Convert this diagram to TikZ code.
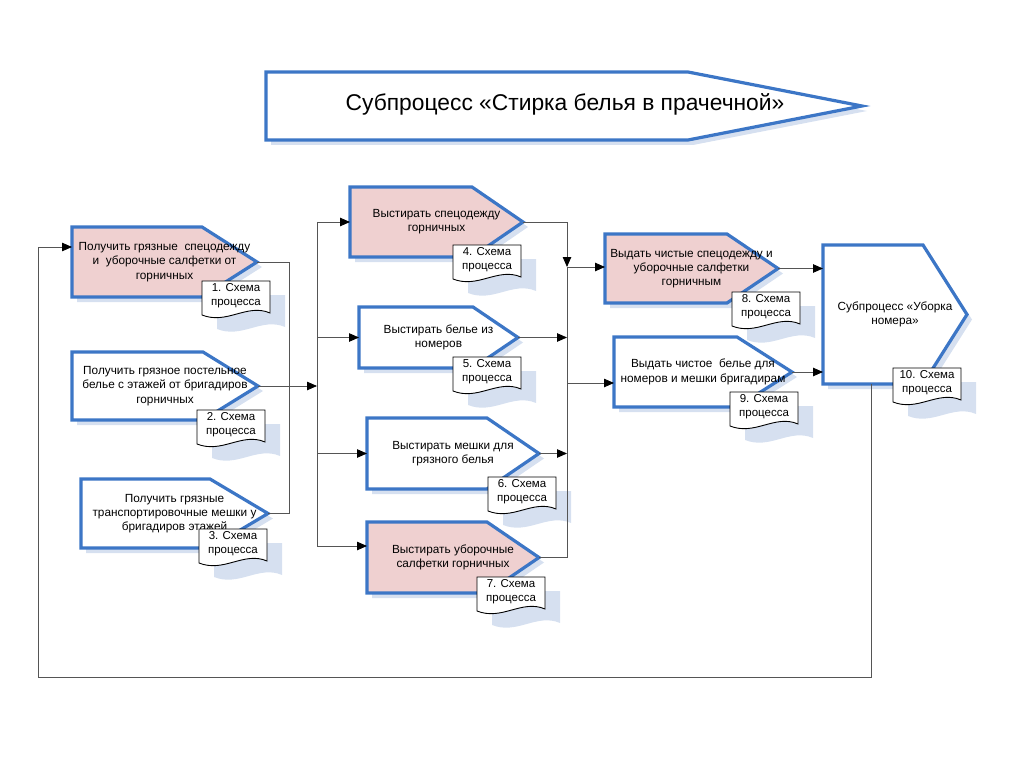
\documentclass[tikz,border=0pt]{standalone}
\usepackage{fontspec}
\setmainfont{Liberation Sans}
\usetikzlibrary{arrows.meta}
\definecolor{bblue}{RGB}{60,118,198}
\definecolor{bpink}{RGB}{239,208,208}
\definecolor{shadowc}{RGB}{214,224,240}
\definecolor{connc}{RGB}{85,85,85}
\tikzset{
  pbox/.style={draw=bblue,line width=3.2pt,line join=miter},
  bshadow/.style={fill=shadowc},
  btext/.style={align=center,inner sep=0pt,font=\fontsize{11.8}{14.3}\selectfont},
  dtext/.style={align=center,inner sep=0pt,font=\fontsize{11.5}{13.8}\selectfont},
  docline/.style={draw=black,line width=0.9pt,fill=white},
  conn/.style={draw=connc,line width=0.8pt},
  arr/.style={conn,-{Triangle[length=10pt,width=8.5pt,color=black]}},
}
% #1 name, #2 fill, #3 x1, #4 y1, #5 notch x, #6 tip x, #7 y2, #8 text
\newcommand\procbox[8]{%
  \fill[bshadow] (#3+5,#4+5) -- (#5+5,#4+5) -- ({#6+5},{(#4+#7)/2+5}) -- (#5+5,#7+5) -- (#3+5,#7+5) -- cycle;
  \draw[pbox,fill=#2] (#3,#4) -- (#5,#4) -- ({#6},{(#4+#7)/2}) -- (#5,#7) -- (#3,#7) -- cycle;
  \node[btext] (#1) at ({(#3+#6)/2},{(#4+#7)/2}) {#8};
  \coordinate (#1-tip) at ({#6},{(#4+#7)/2});
  \coordinate (#1-w) at (#3,{(#4+#7)/2});
}
% #1 name, #2 x, #3 y, #4 text
\newcommand\docbox[4]{%
  \fill[bshadow] (#2+15,#3+14) -- (#2+83,#3+14) -- (#2+83,#3+46) .. controls (#2+60,#3+36) and (#2+40,#3+58) .. (#2+15,#3+48) -- cycle;
  \draw[docline] (#2,#3) -- (#2+68,#3) -- (#2+68,#3+32) .. controls (#2+45,#3+22) and (#2+25,#3+44) .. (#2,#3+34) -- cycle;
  \node[dtext] (#1) at (#2+34,#3+15) {#4};
}
\begin{document}
\begin{tikzpicture}[x=1pt,y=-1pt]
\useasboundingbox (0,0) rectangle (1024,767);
% title
\fill[bshadow] (271,77) -- (693,77) -- (867,111) -- (693,145) -- (271,145) -- cycle;
\draw[pbox,fill=white] (266,72) -- (688,72) -- (862,106) -- (688,140) -- (266,140) -- cycle;
\node[font=\fontsize{22.8}{26}\selectfont,inner sep=0pt] (title) at (565,104) {Субпроцесс «Стирка белья в прачечной»};

% left column
\procbox{b1}{bpink}{72}{227}{202}{257}{297}{Получить грязные\ \ спецодежду\\ и\ \ уборочные салфетки от\\горничных}
\docbox{d1}{202}{281}{1. Схема\\процесса}
\procbox{b2}{white}{72}{352}{203}{258}{420}{Получить грязное постельное\\белье с этажей от бригадиров\\горничных}
\docbox{d2}{197}{410}{2. Схема\\процесса}
\procbox{b3}{white}{81}{479}{210}{268}{548}{Получить грязные\\транспортировочные мешки у\\бригадиров этажей}
\docbox{d3}{199}{529}{3. Схема\\процесса}

% middle column
\procbox{b4}{bpink}{350}{187}{472}{523}{257}{Выстирать спецодежду\\горничных}
\docbox{d4}{453}{245}{4. Схема\\процесса}
\procbox{b5}{white}{359}{307}{473}{518}{368}{Выстирать белье из\\номеров}
\docbox{d5}{453}{357}{5. Схема\\процесса}
\procbox{b6}{white}{367}{418}{487}{539}{489}{Выстирать мешки для\\грязного белья}
\docbox{d6}{488}{477}{6. Схема\\процесса}
\procbox{b7}{bpink}{367}{522}{487}{539}{593}{Выстирать уборочные\\салфетки горничных}
\docbox{d7}{477}{577}{7. Схема\\процесса}

% right column
\procbox{b8}{bpink}{605}{234}{727}{778}{303}{Выдать чистые спецодежду и\\уборочные салфетки\\горничным}
\docbox{d8}{732}{292}{8. Схема\\процесса}
\procbox{b9}{white}{614}{337}{737}{792}{407}{Выдать чистое\ \ белье для\\номеров и мешки бригадирам}
\docbox{d9}{730}{392}{9. Схема\\процесса}
\procbox{b10}{white}{823}{245}{923}{967}{384}{Субпроцесс «Уборка\\номера»}
\docbox{d10}{893}{368}{10. Схема\\процесса}

% junction coordinates
\coordinate (mL) at (289,300);
\coordinate (jL) at (317,386);
\coordinate (jLt) at (317,222);
\coordinate (jLb) at (317,546);
\coordinate (jR1) at (567,267);
\coordinate (jR2) at (567,383);
\coordinate (b10s) at (871,384);
\coordinate (lp1) at (871,677);
\coordinate (lp2) at (38,677);
\coordinate (lp3) at (38,247);

% left merge
\draw[conn] (b1-tip) -- (b1-tip -| mL) -- (b3-tip -| mL) -- (b3-tip);
\draw[arr] (b2-tip) -- (jL);
\draw[conn] (jLt) -- (jLb);
\draw[arr] (jLt) -- (jLt -| b4-w);
\draw[arr] (b5-w -| jLt) -- (b5-w);
\draw[arr] (b6-w -| jLt) -- (b6-w);
\draw[arr] (jLb) -- (jLb -| b7-w);

% right merge
\draw[conn] (b7-tip) -| (jR1);
\draw[arr] (b4-tip) -| (jR1);
\draw[arr] (b5-tip) -- (b5-tip -| jR1);
\draw[arr] (b6-tip) -- (b6-tip -| jR1);
\draw[arr] (jR1) -- (jR1 -| b8-w);
\draw[arr] (jR2) -- (jR2 -| b9-w);

% to subprocess
\draw[arr] (b8-tip) -- (b8-tip -| b10-w);
\draw[arr] (b9-tip) -- (b9-tip -| b10-w);

% loop back
\draw[arr] (b10s) -- (lp1) -- (lp2) -- (lp3) -- (lp3 -| b1-w);
\end{tikzpicture}
\end{document}
